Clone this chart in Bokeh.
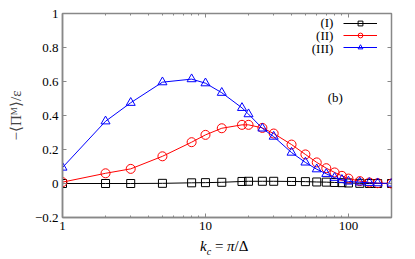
from bokeh.plotting import figure
from bokeh.models import (Label, Legend, LegendItem, LinearAxis, LogAxis, FixedTicker,
                          LogTicker, Range1d, BasicTickFormatter, Div)
from bokeh.layouts import column
from bokeh.embed import file_html
from bokeh.resources import INLINE

k_c = [1, 2, 3, 5, 8, 10, 13, 18, 20, 25, 30, 40, 50, 60, 70, 80, 90, 100, 120, 140, 160, 200]
series_I = [0.0, 0.0, 0.0, 0.001, 0.004, 0.005, 0.007, 0.012, 0.013, 0.013, 0.013, 0.012,
            0.011, 0.009, 0.008, 0.006, 0.005, 0.003, 0.001, 0.0, 0.0, 0.0]
series_II = [0.008, 0.06, 0.086, 0.16, 0.243, 0.286, 0.325, 0.345, 0.345, 0.327, 0.294, 0.229,
             0.171, 0.124, 0.09, 0.065, 0.045, 0.029, 0.014, 0.006, 0.002, 0.0]
series_III = [0.094, 0.366, 0.475, 0.596, 0.614, 0.59, 0.534, 0.445, 0.408, 0.324, 0.276, 0.182,
              0.124, 0.084, 0.057, 0.034, 0.022, 0.012, 0.007, 0.004, 0.002, 0.0]
names = ["(I)", "(II)", "(III)"]
y_ticks = [-0.2, 0.0, 0.2, 0.4, 0.6, 0.8, 1.0]
y_tick_labels = ["\u22120.2", "0", "0.2", "0.4", "0.6", "0.8", "1"]

FONT = "Liberation Serif"
FRAME = "#888888"

p = figure(width=399, height=238, x_axis_type="log", output_backend="svg",
           toolbar_location=None, x_range=Range1d(1, 200), y_range=Range1d(-0.2, 1.0),
           min_border_left=62, min_border_right=8, min_border_top=13, min_border_bottom=21)
p.grid.visible = False
p.outline_line_color = FRAME
p.outline_line_width = 1.5
p.background_fill_color = "white"
p.border_fill_color = "white"

xa = p.xaxis[0]
xa.ticker = LogTicker(desired_num_ticks=3, num_minor_ticks=10)
xa.formatter = BasicTickFormatter()
ya = p.yaxis[0]
ya.ticker = FixedTicker(ticks=y_ticks)
ya.major_label_overrides = dict(zip(y_ticks, y_tick_labels))
ya.axis_label = "\u2212\u27e8\u03a0\u1d39\u27e9/\u03b5"
ya.axis_label_text_font = FONT
ya.axis_label_text_font_style = "normal"
ya.axis_label_text_font_size = "15px"
ya.axis_label_standoff = 8
for ax in (xa, ya):
    ax.axis_line_color = FRAME
    ax.axis_line_width = 1.5
    ax.major_tick_in = 4
    ax.major_tick_out = 0
    ax.minor_tick_in = 2
    ax.minor_tick_out = 0
    ax.major_tick_line_color = FRAME
    ax.minor_tick_line_color = FRAME
    ax.major_label_text_font = FONT
    ax.major_label_text_font_size = "13px"
    ax.major_label_text_color = "black"
    ax.major_label_standoff = 4
ya.minor_tick_line_color = None

top = LogAxis(ticker=LogTicker(desired_num_ticks=3, num_minor_ticks=10))
right = LinearAxis(ticker=FixedTicker(ticks=y_ticks))
for ax in (top, right):
    ax.axis_line_color = None
    ax.major_tick_in = 4
    ax.major_tick_out = 0
    ax.minor_tick_in = 2
    ax.minor_tick_out = 0
    ax.major_tick_line_color = FRAME
    ax.minor_tick_line_color = FRAME
    ax.major_label_text_font_size = "1px"
    ax.major_label_text_alpha = 0
    ax.major_label_standoff = 0
right.minor_tick_line_color = None
p.add_layout(top, "above")
p.add_layout(right, "right")

l1 = p.line(k_c, series_I, line_color="black", line_width=1)
m1 = p.scatter(k_c, series_I, marker="square", size=8, fill_color=None,
               line_color="black", line_width=1)
l2 = p.line(k_c, series_II, line_color="#ff0000", line_width=1)
m2 = p.scatter(k_c, series_II, marker="circle", size=9, fill_color=None,
               line_color="#ff0000", line_width=1)
l3 = p.line(k_c, series_III, line_color="#0000ff", line_width=1)
m3 = p.scatter(k_c, series_III, marker="triangle", size=9, fill_color=None,
               line_color="#0000ff", line_width=1)

legend = Legend(items=[LegendItem(label=" ", renderers=[l1, m1]),
                       LegendItem(label=" ", renderers=[l2, m2]),
                       LegendItem(label=" ", renderers=[l3, m3])],
                location=(281, 164), glyph_width=34, glyph_height=12, label_height=12,
                label_width=1, label_standoff=0, spacing=0, padding=0, margin=0,
                border_line_color=None, background_fill_alpha=0,
                label_text_font_size="8px")
p.add_layout(legend, "center")

legend_y = [0.947, 0.873, 0.797]
for name, yy in zip(names, legend_y):
    p.add_layout(Label(x=78.5, y=yy, text=name, text_align="right", text_baseline="middle",
                       text_font=FONT, text_font_size="13px", text_color="black"))

p.add_layout(Label(x=81, y=0.506, text="(b)", text_align="center", text_baseline="middle",
                   text_font=FONT, text_font_size="13px", text_color="black"))

# x-axis label k_c = π/Δ as HTML text under the figure
xlabel = Div(text=('<div style="font-family:\'Liberation Serif\',serif; font-size:15px; '
                   'line-height:17px; white-space:nowrap; padding-left:200px; color:black;">'
                   '<i>k</i><span style="font-size:10px; font-style:italic; '
                   'position:relative; top:4px;">c</span> = <i>\u03c0</i>/\u0394</div>'),
             width=399, height=17, margin=0)

layout = column(p, xlabel, spacing=0)
open("out.html", "w").write(file_html(layout, INLINE))
